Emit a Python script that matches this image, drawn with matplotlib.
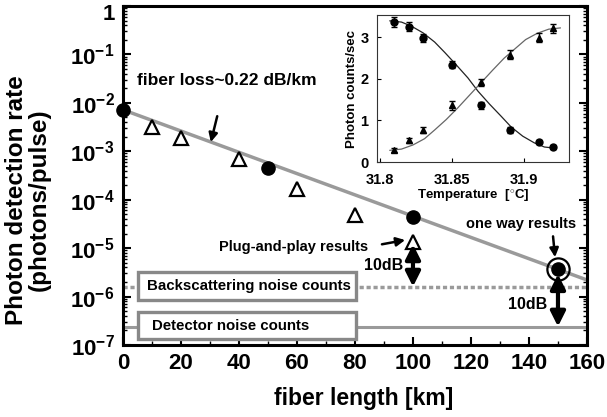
import numpy as np
import matplotlib
matplotlib.use("Agg")
import matplotlib.pyplot as plt
import matplotlib.transforms as mtransforms
from matplotlib.patches import Rectangle

plt.rcParams['font.family'] = ['Liberation Sans', 'DejaVu Sans']
plt.rcParams['font.weight'] = 'bold'
plt.rcParams['mathtext.fontset'] = 'custom'
plt.rcParams['mathtext.rm'] = 'Liberation Sans:bold'
plt.rcParams['mathtext.default'] = 'rm'

# fiber transmission measurements
circle_km   = [0, 50, 100, 150]
circle_rate = [7.2e-3, 4.5e-4, 4.5e-5, 3.7e-6]
tri_km      = [10, 20, 40, 60, 80, 100]
tri_rate    = [3.2e-3, 1.9e-3, 7.0e-4, 1.7e-4, 4.9e-5, 1.35e-5]

# 0.22 dB/km loss line end points
loss_km   = [0, 160]
loss_rate = [7.2e-3, 2.2e-6]

backscatter_level = 1.6e-6
detector_level    = 2.4e-7

x_ticks = [0, 20, 40, 60, 80, 100, 120, 140, 160]
y_ticks = [1, 1e-1, 1e-2, 1e-3, 1e-4, 1e-5, 1e-6, 1e-7]
y_tick_labels = ['1', r'$10^{-1}$', r'$10^{-2}$', r'$10^{-3}$', r'$10^{-4}$',
                 r'$10^{-5}$', r'$10^{-6}$', r'$10^{-7}$']

# inset: counts vs temperature
temp        = [31.81, 31.82, 31.83, 31.85, 31.87, 31.89, 31.91, 31.92]
counts_circ = [3.37, 3.25, 2.97, 2.34, 1.36, 0.76, 0.49, 0.36]
counts_tri  = [0.28, 0.52, 0.76, 1.36, 1.91, 2.58, 2.98, 3.21]
err_circ    = [0.12, 0.11, 0.10, 0.09, 0.09, 0.07, 0.05, 0.05]
err_tri     = [0.05, 0.06, 0.07, 0.10, 0.09, 0.10, 0.11, 0.11]

fit_circ_t = [31.807, 31.815, 31.822, 31.830, 31.838, 31.845, 31.853, 31.861,
              31.868, 31.876, 31.884, 31.891, 31.899, 31.907, 31.914, 31.922]
fit_circ   = [3.39, 3.36, 3.26, 3.10, 2.88, 2.63, 2.33, 2.02,
              1.70, 1.39, 1.10, 0.84, 0.62, 0.46, 0.36, 0.33]
fit_tri_t  = [31.807, 31.815, 31.823, 31.831, 31.838, 31.846, 31.854, 31.862,
              31.870, 31.878, 31.886, 31.894, 31.901, 31.909, 31.917, 31.925]
fit_tri    = [0.28, 0.31, 0.41, 0.56, 0.77, 1.02, 1.30, 1.60,
              1.90, 2.20, 2.49, 2.73, 2.94, 3.09, 3.19, 3.22]

GRAY = '#9a9a9a'

fig = plt.figure(figsize=(6.07, 4.17), dpi=100)
ax = fig.add_axes([0.2026, 0.1727, 0.7644, 0.8129])
ax.set_yscale('log')
ax.set_xlim(0, 160)
ax.set_ylim(1e-7, 1)

# loss line and noise floors
ax.plot(loss_km, loss_rate, color=GRAY, lw=2.5, zorder=2)
ax.plot([0, 160], [backscatter_level] * 2, color=GRAY, lw=2.5,
        linestyle=(0, (1.2, 0.8)), zorder=2)
ax.plot([0, 160], [detector_level] * 2, color=GRAY, lw=2.2, zorder=2)

ax.plot(tri_km, tri_rate, '^', ms=10, mfc='white', mec='black', mew=1.6,
        linestyle='none', zorder=5)
ax.plot(circle_km, circle_rate, 'o', ms=9.5, color='black', linestyle='none',
        zorder=5, clip_on=False)
ax.plot([circle_km[-1]], [circle_rate[-1]], 'o', ms=16, mfc='none', mec='black',
        mew=1.6, zorder=5)

# labelled noise boxes
for y0, y1, txt, tx in [(8.4e-7, 3.2e-6, 'Backscattering noise counts', 8.2),
                        (1.32e-7, 4.8e-7, 'Detector noise counts', 10.0)]:
    ax.add_patch(Rectangle((5.2, y0), 75.0, y1 - y0, facecolor='white',
                           edgecolor='#888888', lw=2.4, zorder=3))
    ax.text(tx, np.sqrt(y0 * y1), txt, fontsize=10.8, fontweight='bold',
            va='center', ha='left', zorder=4)

# 10 dB arrows
ax.annotate('', xy=(100, backscatter_level), xytext=(100, 1.2e-5),
            arrowprops=dict(arrowstyle='<|-|>', color='black', lw=3,
                            mutation_scale=22, shrinkA=0, shrinkB=0), zorder=6)
ax.annotate('', xy=(150, detector_level), xytext=(150, 2.9e-6),
            arrowprops=dict(arrowstyle='<|-|>', color='black', lw=3,
                            mutation_scale=22, shrinkA=0, shrinkB=0), zorder=6)
ax.text(96.5, 4.4e-6, '10dB', fontsize=11.5, fontweight='bold', ha='right', va='center')
ax.text(146.3, 7.0e-7, '10dB', fontsize=11.5, fontweight='bold', ha='right', va='center')

# annotations
ax.text(5.0, 2.9e-2, 'fiber loss~0.22 dB/km', fontsize=12.5, fontweight='bold',
        ha='left', va='center')
ax.annotate('', xy=(30.3, 1.55e-3), xytext=(32.5, 5.3e-3),
            arrowprops=dict(arrowstyle='-|>', color='black', lw=1.8,
                            mutation_scale=13, shrinkA=0, shrinkB=0))
ax.text(84.5, 1.05e-5, 'Plug-and-play results', fontsize=10.5, fontweight='bold',
        ha='right', va='center')
ax.annotate('', xy=(97.3, 1.47e-5), xytext=(89.3, 1.2e-5),
            arrowprops=dict(arrowstyle='-|>', color='black', lw=1.8,
                            mutation_scale=13, shrinkA=0, shrinkB=0))
ax.text(137.2, 3.1e-5, 'one way results', fontsize=10.5, fontweight='bold',
        ha='center', va='center')
ax.annotate('', xy=(149.0, 6.5e-6), xytext=(148.3, 1.75e-5),
            arrowprops=dict(arrowstyle='-|>', color='black', lw=1.8,
                            mutation_scale=13, shrinkA=0, shrinkB=0))

ax.set_xticks(x_ticks)
ax.set_xticks(np.arange(10, 160, 20), minor=True)
ax.set_xticklabels([str(v) for v in x_ticks], fontsize=16, fontweight='bold')
ax.set_yticks(y_ticks)
ax.set_yticklabels(y_tick_labels, fontsize=16)
ax.tick_params(axis='both', which='both', direction='in', right=True, top=False)
ax.tick_params(axis='both', which='major', length=6, width=1.5, pad=6)
ax.tick_params(axis='both', which='minor', length=3, width=1)
for s in ax.spines.values():
    s.set_linewidth(2.2)

# nudge the top "1" label down so it stays inside the figure
top_lbl = ax.get_yticklabels()[0]
top_lbl.set_transform(top_lbl.get_transform() +
                      mtransforms.ScaledTranslation(0, -4 / 72, fig.dpi_scale_trans))

ax.set_xlabel('fiber length [km]', fontsize=16.5, fontweight='bold', va='center')
ax.xaxis.set_label_coords(0.519, -0.157)
ax.set_ylabel('Photon detection rate\n(photons/pulse)', fontsize=17.5,
              fontweight='bold', linespacing=0.95, va='center')
ax.yaxis.set_label_coords(-0.205, 0.428)

# inset: temperature scan
ins = fig.add_axes([0.621, 0.6115, 0.3163, 0.3525])
ins.plot(fit_circ_t, fit_circ, color='#222222', lw=0.9)
ins.plot(fit_tri_t, fit_tri, color='#666666', lw=0.9)
ins.errorbar(temp, counts_circ, yerr=err_circ, fmt='o', ms=5, color='black',
             capsize=2, elinewidth=1, capthick=1)
ins.errorbar(temp, counts_tri, yerr=err_tri, fmt='^', ms=5, color='black',
             capsize=2, elinewidth=1, capthick=1)
ins.set_xlim(31.798, 31.931)
ins.set_ylim(0, 3.53)
ins.set_xticks([31.8, 31.85, 31.9])
ins.set_xticklabels(['31.8', '31.85', '31.9'], fontsize=10.5, fontweight='bold')
ins.set_yticks([0, 1, 2, 3])
ins.set_yticklabels(['0', '1', '2', '3'], fontsize=10.5, fontweight='bold')
ins.tick_params(direction='in', length=3, width=0.8)
ins.tick_params(axis='x', pad=8)
ins.tick_params(axis='y', pad=6)
for s in ins.spines.values():
    s.set_linewidth(0.8)
    s.set_color('#333333')
ins.set_xlabel('Temperature  [$^{\\circ}$C]', fontsize=9.5, fontweight='bold', labelpad=0)
ins.set_ylabel('Photon counts/sec', fontsize=9.5, fontweight='bold', labelpad=2)

fig.savefig('out.png', dpi=100)
